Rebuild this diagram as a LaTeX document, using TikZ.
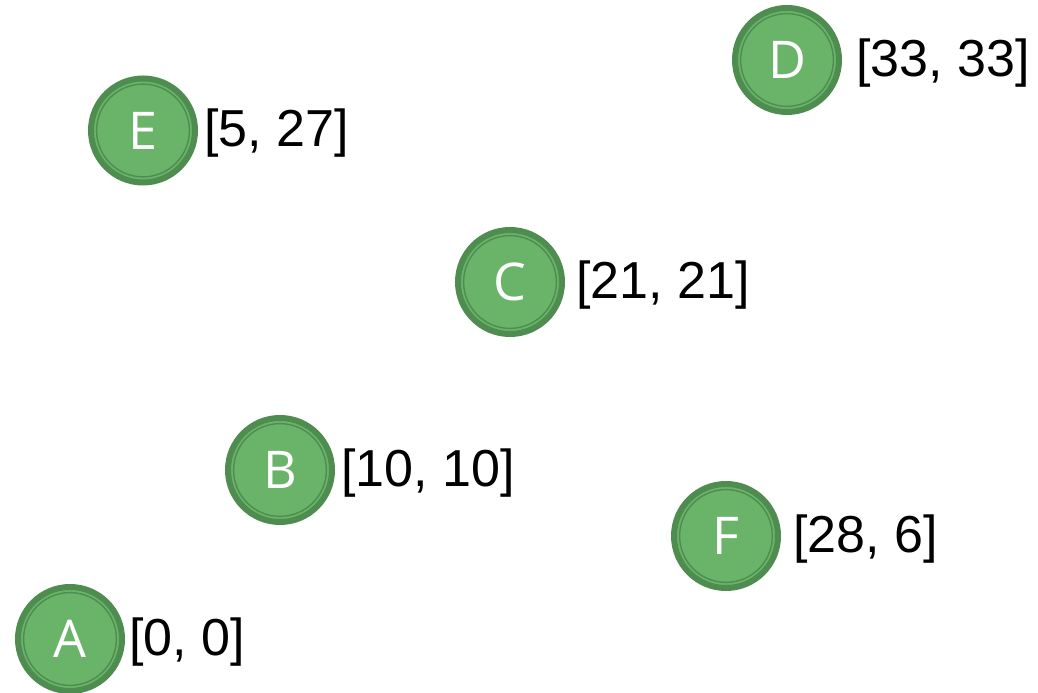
\documentclass[tikz,border=0pt]{standalone}
\usepackage{fontspec}
\setmainfont{Liberation Sans}
\newfontfamily\letterfont{Open Sans}
\usetikzlibrary{positioning}
\definecolor{ringdark}{RGB}{78,140,80}
\definecolor{nodefill}{RGB}{106,180,106}

\begin{document}
\begin{tikzpicture}[
    vertex/.style={circle,inner sep=0pt,minimum size=2.6cm,fill=nodefill,draw=ringdark,
      line width=0.15cm,text=white,font=\letterfont\fontsize{37}{44}\selectfont},
    tag/.style={inner sep=0pt,anchor=west,yshift=-0.07cm,font=\fontsize{37}{44}\selectfont}]
    \useasboundingbox (0,0) rectangle (25.95,17.325);
    % points
    \node[vertex] (A) at (1.75,1.35) {A};
    \node[vertex] (B) at (7.0,5.575) {B};
    \node[vertex] (C) at (12.75,10.275) {C};
    \node[vertex] (D) at (19.675,15.825) {D};
    \node[vertex] (E) at (3.575,14.0625) {E};
    \node[vertex] (F) at (18.15,3.925) {F};
    \foreach \n in {A,B,C,D,E,F}
      \draw[ringdark,line width=0.035cm] (\n.center) circle (1.16cm);
    % coordinates
    \node[tag,right=0.1cm of A] {[0, 0]};
    \node[tag,right=0.15cm of B] {[10, 10]};
    \node[tag,right=0.28cm of C] {[21, 21]};
    \node[tag,right=0.35cm of D] {[33, 33]};
    \node[tag,right=0.15cm of E] {[5, 27]};
    \node[tag,right=0.3cm of F] {[28, 6]};
\end{tikzpicture}
\end{document}
